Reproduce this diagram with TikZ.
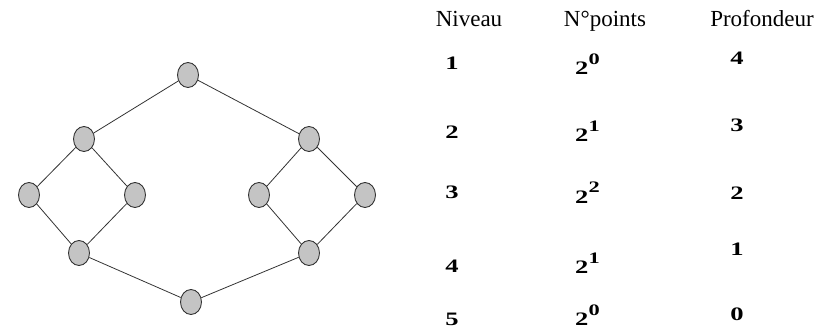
\documentclass[tikz,border=0pt]{standalone}
\usepackage{fontspec}
\setmainfont{Liberation Serif}
\newfontfamily\widefont[FakeStretch=1.4]{Liberation Serif}
\usepackage{tikz}
\usetikzlibrary{positioning,shapes.geometric}
\definecolor{cPt}{HTML}{C4C4C4}
\definecolor{cLn}{HTML}{333333}
\newcommand\expo[1]{\raisebox{10pt}{\fontsize{16}{16}\selectfont #1}}
\tikzset{
  pt/.style={ellipse,fill=cPt,draw=cLn,line width=.9pt,inner sep=0pt,minimum width=21pt,minimum height=25pt},
  edg/.style={line width=.8pt,cLn},
  hdr/.style={font=\fontsize{23}{25}\selectfont,anchor=base,inner sep=0pt},
  val/.style={font=\fontsize{19}{21}\selectfont\widefont\bfseries,anchor=base,inner sep=0pt},
}
\begin{document}
\begin{tikzpicture}[x=1pt,y=-1pt]
  \useasboundingbox (0,0) rectangle (821,331);
  % lattice
  \node[pt] (n1) at (188,75) {};
  \node[pt] (a2) at (84,139) {};
  \node[pt] (b2) at (309,139) {};
  \node[pt] (a3) at (29,195) {};
  \node[pt] (b3) at (135,195) {};
  \node[pt] (c3) at (259,195) {};
  \node[pt] (d3) at (365,195) {};
  \node[pt] (a4) at (79,253) {};
  \node[pt] (b4) at (309,253) {};
  \node[pt] (n5) at (191,302) {};
  \draw[edg] (n1)--(a2) (n1)--(b2) (a2)--(a3) (a2)--(b3) (a3)--(a4) (b3)--(a4);
  \draw[edg] (b2)--(c3) (b2)--(d3) (c3)--(b4) (d3)--(b4) (a4)--(n5) (b4)--(n5);
  % table
  \node[hdr] (hNiv) at (469,27) {Niveau};
  \node[hdr] (hPts) at (605,27) {N°points};
  \node[hdr] (hPro) at (762,27) {Profondeur};
  \foreach \nv/\yn/\yb/\ex/\pr/\yp in {1/70/75/0/4/65,2/139/142/1/3/132,3/198/203/2/2/200,4/272/273/1/1/255,5/325/325/0/0/320}{
    \node[val] (niv\nv) at (452,\yn) {\nv};
    \node[val,anchor=base west] (pts\nv) at (575,\yb) {2\expo{\ex}};
    \node[val] (pro\nv) at (737,\yp) {\pr};
  }
\end{tikzpicture}
\end{document}
